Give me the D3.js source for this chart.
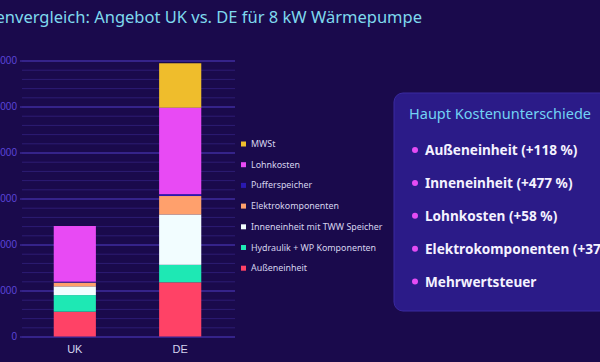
<!DOCTYPE html>
<html>
<head>
<meta charset="utf-8">
<script src="https://cdn.jsdelivr.net/npm/d3@7"></script>
<style>
  html, body { margin: 0; padding: 0; background: #1a0a4c; overflow: hidden; }
  svg { display: block; font-family: "Noto Sans", sans-serif; }
</style>
</head>
<body>
<script>
var W = 600, H = 362;

var categories = ["UK", "DE"];
// stack order bottom -> top
var seriesNames = ["Außeneinheit", "Hydraulik + WP Komponenten", "Inneneinheit mit TWW Speicher",
                   "Elektrokomponenten", "Pufferspeicher", "Lohnkosten", "MWSt"];
var seriesColors = ["#ff4266", "#1ee8b4", "#f2fdff", "#ffa06c", "#2a19b0", "#e84af4", "#efbd2c"];
var valuesUK = [2700, 1800, 950, 410, 100, 6050, 0];
var valuesDE = [5890, 1900, 5480, 2000, 200, 9400, 4830];
var yTicks = [0, 5000, 10000, 15000, 20000, 25000, 30000];
var minorTicks = d3.range(0, 30001, 1000);

var notesTitle = "Haupt Kostenunterschiede";
var notes = ["Außeneinheit (+118 %)", "Inneneinheit (+477 %)", "Lohnkosten (+58 %)",
             "Elektrokomponenten (+378 %)", "Mehrwertsteuer"];

var svg = d3.select("body").append("svg")
    .attr("width", W)
    .attr("height", H);

// title, cut at the left edge like the original
svg.append("text")
    .attr("x", 422)
    .attr("y", 23)
    .attr("text-anchor", "end")
    .style("font-size", "16.5px")
    .style("fill", "#7fd9ee")
    .text("Kostenvergleich: Angebot UK vs. DE für 8 kW Wärmepumpe");

var y = d3.scaleLinear()
    .domain([0, 30000])
    .range([336.5, 60.5]);

var x = d3.scaleBand()
    .domain(categories)
    .range([20, 235])
    .paddingInner(0.6)
    .paddingOuter(0.32);

// minor grid
svg.append("g")
    .attr("transform", "translate(235,0)")
    .call(d3.axisLeft(y).tickValues(minorTicks).tickSize(213).tickFormat(""))
    .call(g => g.select(".domain").remove())
    .selectAll("line")
    .attr("stroke", "#2d1c74")
    .attr("stroke-width", 1);

// major grid + labels
var yAxis = svg.append("g")
    .attr("transform", "translate(20,0)")
    .call(d3.axisLeft(y).tickValues(yTicks).tickSize(-215).tickPadding(3).tickFormat(d3.format("d")));
yAxis.select(".domain").remove();
yAxis.selectAll("line")
    .attr("stroke", "#4835b4")
    .attr("stroke-width", 1.2);
yAxis.selectAll("text")
    .style("font-size", "10px")
    .style("fill", "#5a45d8");

// stacked bars
var table = categories.map(function (c, i) {
    var row = {cat: c};
    var vals = i === 0 ? valuesUK : valuesDE;
    seriesNames.forEach(function (s, j) { row[s] = vals[j]; });
    return row;
});
var stacked = d3.stack().keys(seriesNames)(table);

svg.append("g")
    .selectAll("g")
    .data(stacked)
    .enter()
    .append("g")
    .attr("fill", function (d, i) { return seriesColors[i]; })
    .selectAll("rect")
    .data(function (d) { return d; })
    .enter()
    .append("rect")
    .attr("x", function (d) { return x(d.data.cat); })
    .attr("width", x.bandwidth())
    .attr("y", function (d) { return y(d[1]); })
    .attr("height", function (d) { return y(d[0]) - y(d[1]); });

// x labels
svg.append("g")
    .attr("transform", "translate(0,337)")
    .call(d3.axisBottom(x).tickSize(0).tickPadding(8))
    .call(g => g.select(".domain").remove())
    .selectAll("text")
    .style("font-size", "11px")
    .style("fill", "#d4d4ee");

// legend (top entry = top of stack)
var legend = svg.append("g").attr("transform", "translate(241,144)");
var legendItems = seriesNames.slice().reverse();
var legendColors = seriesColors.slice().reverse();
legendItems.forEach(function (name, i) {
    var g = legend.append("g").attr("transform", "translate(0," + (i * 20.7) + ")");
    g.append("rect")
        .attr("x", 0).attr("y", -2.5)
        .attr("width", 5).attr("height", 5)
        .attr("fill", legendColors[i]);
    g.append("text")
        .attr("x", 10)
        .attr("y", 3)
        .style("font-size", "8.9px")
        .style("fill", "#d6d4ee")
        .text(name);
});

// notes panel
var panel = svg.append("g");
panel.append("rect")
    .attr("x", 394).attr("y", 93)
    .attr("width", 230).attr("height", 218)
    .attr("rx", 9)
    .attr("fill", "#2b1b88")
    .attr("stroke", "#3a2aa0")
    .attr("stroke-width", 1);
panel.append("text")
    .attr("x", 409)
    .attr("y", 119)
    .style("font-size", "14.5px")
    .style("fill", "#72d2f4")
    .text(notesTitle);
notes.forEach(function (t, i) {
    var yy = 150 + i * 32.9;
    panel.append("circle")
        .attr("cx", 415).attr("cy", yy)
        .attr("r", 3)
        .attr("fill", "#e44cf4");
    panel.append("text")
        .attr("x", 425)
        .attr("y", yy + 5)
        .style("font-size", "13.6px")
        .style("font-weight", "bold")
        .style("fill", "#f4f2ff")
        .text(t);
});
</script>
</body>
</html>
